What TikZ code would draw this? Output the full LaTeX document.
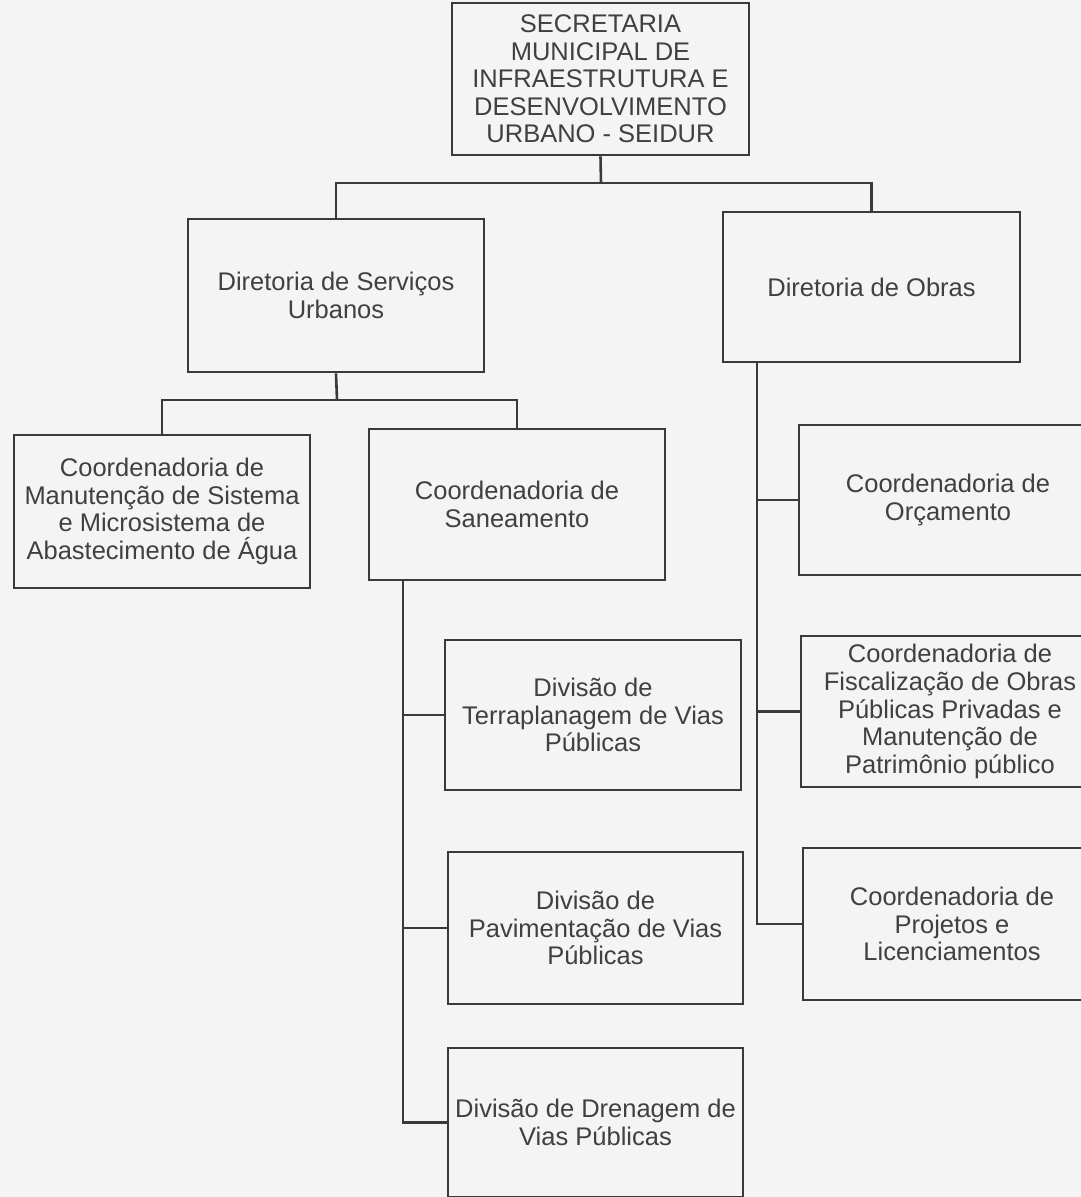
\documentclass[tikz,border=0pt]{standalone}
\usepackage{fontspec}
\setmainfont{Liberation Sans}
\definecolor{bgc}{HTML}{F4F4F4}
\definecolor{linec}{HTML}{3A3A3A}
\definecolor{textc}{HTML}{404040}
\begin{document}
\begin{tikzpicture}[x=1pt,y=-1pt,
  box/.style={draw=linec,line width=2.6pt,fill=none,inner sep=0pt,align=center,
    text=textc,font=\fontsize{25.5}{27.6}\selectfont},
  conn/.style={draw=linec,line width=2.6pt}]
\fill[bgc] (0,0) rectangle (1081,1197);
\clip (0,0) rectangle (1081,1197);
% boxes
\node[box,minimum width=297,minimum height=152] (sec) at (600.5,79)
  {SECRETARIA\\MUNICIPAL DE\\INFRAESTRUTURA E\\DESENVOLVIMENTO\\URBANO - SEIDUR};
\node[box,minimum width=296,minimum height=153] (dsu) at (336,295.5)
  {Diretoria de Serviços\\Urbanos};
\node[box,minimum width=297,minimum height=150] (dob) at (871.5,287)
  {Diretoria de Obras};
\node[box,minimum width=296,minimum height=153] (cman) at (162,511.5)
  {Coordenadoria de\\Manutenção de Sistema\\e Microsistema de\\Abastecimento de Água};
\node[box,minimum width=296,minimum height=151] (csan) at (517,504.5)
  {Coordenadoria de\\Saneamento};
\node[box,minimum width=296,minimum height=150] (dter) at (593,715)
  {Divisão de\\Terraplanagem de Vias\\Públicas};
\node[box,minimum width=295,minimum height=152] (dpav) at (595.5,928)
  {Divisão de\\Pavimentação de Vias\\Públicas};
\node[box,minimum width=295,minimum height=149] (ddre) at (595.5,1122.5)
  {Divisão de Drenagem de\\Vias Públicas};
\node[box,minimum width=298,minimum height=150] (corc) at (948,500)
  {Coordenadoria de\\Orçamento};
\node[box,minimum width=298,minimum height=151] (cfis) at (950,711.5)
  {Coordenadoria de\\Fiscalização de Obras\\Públicas Privadas e\\Manutenção de\\Patrimônio público};
\node[box,minimum width=298,minimum height=152] (cproj) at (952,924)
  {Coordenadoria de\\Projetos e\\Licenciamentos};
% connectors
\coordinate (j1) at (601,183);
\draw[conn] (sec.south) -- (j1);
\draw[conn] (dsu.north) -- (dsu.north |- j1) -- (dob.north |- j1) -- (dob.north);
\coordinate (j2) at (337,400);
\draw[conn] (dsu.south) -- (j2);
\draw[conn] (cman.north) -- (cman.north |- j2) -- (csan.north |- j2) -- (csan.north);
\coordinate (s1) at (403,580);
\draw[conn] (s1) |- (dter.west);
\draw[conn] (s1) |- (dpav.west);
\draw[conn] (s1) |- (ddre.west);
\coordinate (s2) at (757,362);
\draw[conn] (s2) |- (corc.west);
\draw[conn] (s2) |- (cfis.west);
\draw[conn] (s2) |- (cproj.west);
\end{tikzpicture}
\end{document}
